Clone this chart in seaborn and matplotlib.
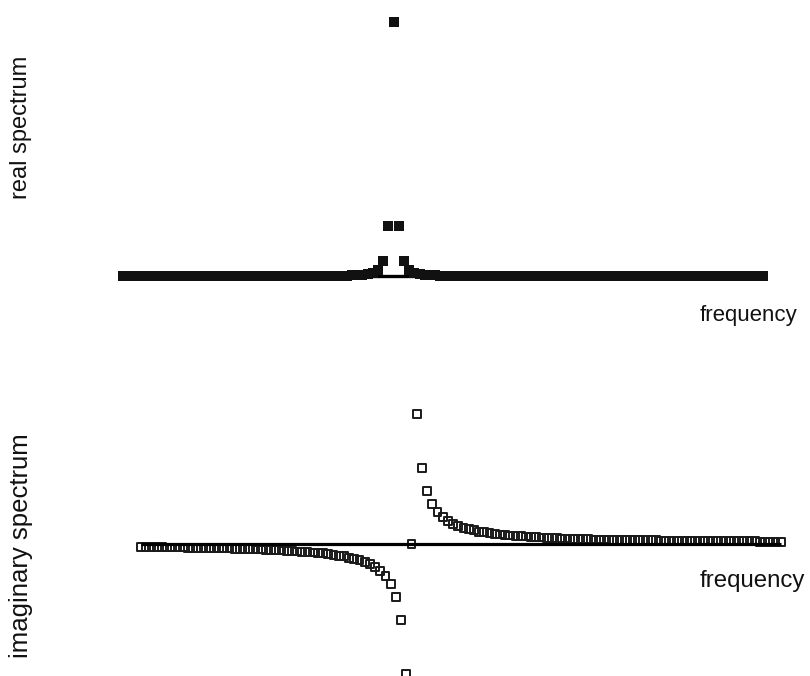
import matplotlib
matplotlib.use("Agg")
import matplotlib.pyplot as plt
import pandas as pd
import seaborn as sns

# Frequency bin index of every spectral point
freq = list(range(-52, 72))

# Real (absorption) part of the spectrum, one value per bin
real_part = (
    [0.000] * 30
    + [0.001] * 10
    + [0.002, 0.002, 0.002, 0.003, 0.004, 0.005, 0.007, 0.010, 0.015, 0.027, 0.059, 0.200]
    + [1.000]
    + [0.200, 0.059, 0.027, 0.015, 0.010, 0.007, 0.005, 0.004, 0.003, 0.002, 0.002, 0.002]
    + [0.001] * 10
    + [0.000] * 49
)

# Imaginary (dispersion) part, positive side for bins 1..71
imag_pos = [
    0.400, 0.235, 0.162, 0.123, 0.099, 0.083, 0.071, 0.062, 0.055, 0.050,
    0.045, 0.042, 0.038, 0.036, 0.033, 0.031, 0.029, 0.028, 0.026, 0.025,
    0.024, 0.023, 0.022, 0.021, 0.020, 0.019, 0.019, 0.018, 0.017, 0.017,
    0.016, 0.016, 0.015, 0.015, 0.014, 0.014, 0.014, 0.013, 0.013, 0.012,
    0.012, 0.012, 0.012, 0.011, 0.011, 0.011, 0.011, 0.010, 0.010, 0.010,
    0.010, 0.010, 0.009, 0.009, 0.009, 0.009, 0.009, 0.009, 0.008, 0.008,
    0.008, 0.008, 0.008, 0.008, 0.008, 0.008, 0.007, 0.007, 0.007, 0.007,
    0.007,
]
imag_part = [-v for v in reversed(imag_pos[:52])] + [0.000] + imag_pos

real_df = pd.DataFrame({"frequency": freq, "value": real_part})
imag_df = pd.DataFrame({"frequency": freq, "value": imag_part})

sns.set_style("white")
plt.rcParams["font.family"] = ["Liberation Sans", "DejaVu Sans"]

W, H = 810, 676
fig = plt.figure(figsize=(W / 100, H / 100), dpi=100)
fig.patch.set_facecolor("white")

# Top panel: real spectrum
ax_re = fig.add_axes([0, (H - 340) / H, 1, 340 / H])
ax_re.hlines(0, freq[0], freq[-1], color="black", linewidth=2.4, zorder=1)
sns.scatterplot(data=real_df, x="frequency", y="value", ax=ax_re,
                marker="s", s=46, color="#111111", linewidth=0,
                legend=False, zorder=2)
ax_re.set_xlim(-75.71, 80.06)
ax_re.set_ylim(-0.2495, 1.0864)
ax_re.axis("off")

# Bottom panel: imaginary spectrum
ax_im = fig.add_axes([0, 0, 1, 336 / H])
sns.scatterplot(data=imag_df, x="frequency", y="value", ax=ax_im,
                marker="s", s=32, facecolor="none", edgecolor="#1a1a1a",
                linewidth=1.4, legend=False, zorder=2)
ax_im.hlines(0, freq[0], freq[-1], color="black", linewidth=2.3, zorder=3)
ax_im.set_xlim(-79.13, 76.63)
ax_im.set_ylim(-0.4062, 0.6277)
ax_im.axis("off")

# Axis captions
fig.text(21 / W, 1 - 127 / H, "real spectrum", rotation=90,
         ha="center", va="center", fontsize=17, color="#111111")
fig.text(700 / W, 1 - 316 / H, "frequency",
         ha="left", va="center", fontsize=16, color="#111111")
fig.text(21 / W, 1 - 546 / H, "imaginary spectrum", rotation=90,
         ha="center", va="center", fontsize=18.5, color="#111111")
fig.text(700 / W, 1 - 581 / H, "frequency",
         ha="left", va="center", fontsize=17.3, color="#111111")

fig.savefig("out.png", dpi=100, facecolor="white")
